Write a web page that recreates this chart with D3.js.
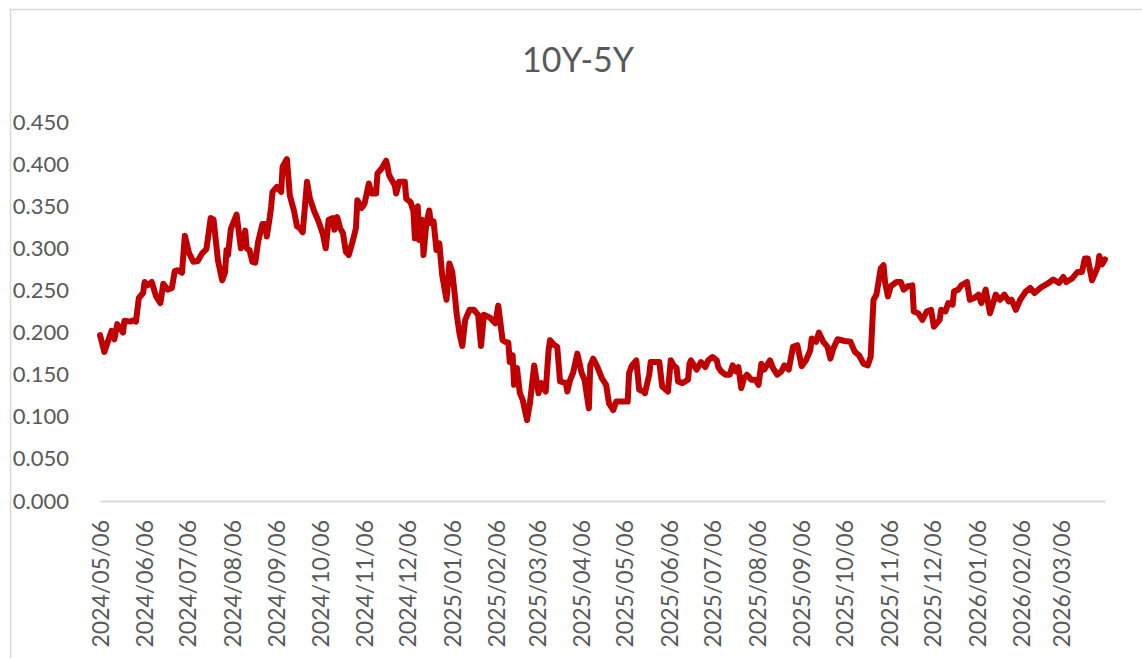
<!DOCTYPE html>
<html>
<head>
<meta charset="utf-8">
<script src="https://cdn.jsdelivr.net/npm/d3@7"></script>
<style>
  body { margin: 0; background: #fff; }
  svg { display: block; font-family: Lato, "Open Sans", sans-serif; }
</style>
</head>
<body>
<svg id="chart" width="1142" height="658"></svg>
<script>
const title = "10Y-5Y";

const dates = [
  "2024-05-06","2024-05-09","2024-05-14","2024-05-16","2024-05-18","2024-05-22","2024-05-23","2024-05-27","2024-05-30","2024-05-31",
  "2024-06-02","2024-06-05","2024-06-06","2024-06-08","2024-06-11","2024-06-14","2024-06-17","2024-06-19","2024-06-22","2024-06-25",
  "2024-06-27","2024-06-29","2024-07-02","2024-07-04","2024-07-07","2024-07-10","2024-07-13","2024-07-16","2024-07-19","2024-07-22",
  "2024-07-24","2024-07-27","2024-07-30","2024-08-01","2024-08-02","2024-08-03","2024-08-05","2024-08-09","2024-08-12","2024-08-15",
  "2024-08-16","2024-08-18","2024-08-20","2024-08-22","2024-08-24","2024-08-27","2024-08-29","2024-08-30","2024-09-01","2024-09-02",
  "2024-09-03","2024-09-06","2024-09-08","2024-09-09","2024-09-10","2024-09-13","2024-09-14","2024-09-15","2024-09-18","2024-09-20",
  "2024-09-22","2024-09-24","2024-09-27","2024-09-29","2024-10-02","2024-10-05","2024-10-08","2024-10-10","2024-10-12","2024-10-15",
  "2024-10-16","2024-10-18","2024-10-20","2024-10-22","2024-10-24","2024-10-26","2024-10-29","2024-10-31","2024-11-01","2024-11-04",
  "2024-11-06","2024-11-09","2024-11-11","2024-11-14","2024-11-15","2024-11-18","2024-11-21","2024-11-22","2024-11-23","2024-11-27",
  "2024-11-28","2024-11-30","2024-12-04","2024-12-05","2024-12-08","2024-12-10","2024-12-11","2024-12-12","2024-12-13","2024-12-14",
  "2024-12-16","2024-12-17","2024-12-19","2024-12-21","2024-12-22","2024-12-24","2024-12-26","2024-12-28","2024-12-30","2025-01-02",
  "2025-01-04","2025-01-06","2025-01-08","2025-01-09","2025-01-11","2025-01-13","2025-01-15","2025-01-18","2025-01-21","2025-01-24",
  "2025-01-26","2025-01-28","2025-02-01","2025-02-05","2025-02-07","2025-02-10","2025-02-12","2025-02-14","2025-02-15","2025-02-17",
  "2025-02-18","2025-02-20","2025-02-22","2025-02-24","2025-02-27","2025-03-01","2025-03-04","2025-03-07","2025-03-09","2025-03-12",
  "2025-03-14","2025-03-15","2025-03-18","2025-03-20","2025-03-22","2025-03-26","2025-03-27","2025-03-29","2025-03-31","2025-04-03",
  "2025-04-06","2025-04-08","2025-04-11","2025-04-12","2025-04-14","2025-04-17","2025-04-20","2025-04-23","2025-04-25","2025-04-28",
  "2025-04-30","2025-05-04","2025-05-08","2025-05-09","2025-05-11","2025-05-14","2025-05-16","2025-05-19","2025-05-20","2025-05-23",
  "2025-05-24","2025-05-30","2025-06-01","2025-06-05","2025-06-07","2025-06-09","2025-06-11","2025-06-12","2025-06-15","2025-06-19",
  "2025-06-20","2025-06-21","2025-06-25","2025-06-28","2025-07-01","2025-07-03","2025-07-06","2025-07-09","2025-07-10","2025-07-12",
  "2025-07-15","2025-07-18","2025-07-20","2025-07-22","2025-07-24","2025-07-26","2025-07-28","2025-07-30","2025-08-02","2025-08-05",
  "2025-08-07","2025-08-09","2025-08-11","2025-08-15","2025-08-17","2025-08-20","2025-08-23","2025-08-25","2025-08-28","2025-08-31",
  "2025-09-03","2025-09-06","2025-09-09","2025-09-12","2025-09-13","2025-09-16","2025-09-18","2025-09-21","2025-09-24","2025-09-26",
  "2025-09-28","2025-10-01","2025-10-06","2025-10-10","2025-10-13","2025-10-16","2025-10-19","2025-10-22","2025-10-24","2025-10-26",
  "2025-10-28","2025-10-31","2025-11-02","2025-11-03","2025-11-05","2025-11-07","2025-11-11","2025-11-14","2025-11-16","2025-11-19",
  "2025-11-22","2025-11-23","2025-11-26","2025-11-29","2025-12-02","2025-12-05","2025-12-07","2025-12-11","2025-12-12","2025-12-15",
  "2025-12-17","2025-12-20","2025-12-21","2025-12-24","2025-12-26","2025-12-30","2026-01-01","2026-01-04","2026-01-07","2026-01-09",
  "2026-01-12","2026-01-15","2026-01-19","2026-01-22","2026-01-25","2026-01-28","2026-01-30","2026-02-02","2026-02-05","2026-02-09",
  "2026-02-12","2026-02-15","2026-02-19","2026-02-24","2026-02-28","2026-03-04","2026-03-07","2026-03-09","2026-03-13","2026-03-17",
  "2026-03-20","2026-03-22","2026-03-24","2026-03-27","2026-03-31","2026-04-01","2026-04-03","2026-04-05"
];

const values = [
  0.197,0.177,0.202,0.192,0.210,0.200,0.214,0.213,0.215,0.213,
  0.241,0.247,0.260,0.256,0.260,0.243,0.235,0.258,0.251,0.253,
  0.273,0.274,0.271,0.315,0.294,0.284,0.285,0.294,0.299,0.336,
  0.334,0.286,0.262,0.272,0.298,0.292,0.323,0.340,0.300,0.321,
  0.300,0.298,0.284,0.283,0.308,0.329,0.329,0.314,0.336,0.349,
  0.367,0.373,0.369,0.367,0.397,0.406,0.385,0.363,0.344,0.326,
  0.324,0.319,0.379,0.359,0.344,0.332,0.317,0.300,0.334,0.336,
  0.322,0.337,0.324,0.318,0.296,0.292,0.310,0.324,0.357,0.348,
  0.353,0.377,0.365,0.365,0.389,0.395,0.404,0.397,0.387,0.375,
  0.365,0.379,0.379,0.359,0.355,0.344,0.312,0.340,0.350,0.310,
  0.334,0.292,0.330,0.345,0.330,0.332,0.298,0.306,0.268,0.239,
  0.282,0.272,0.241,0.223,0.199,0.184,0.215,0.227,0.227,0.221,
  0.184,0.221,0.218,0.211,0.232,0.191,0.189,0.188,0.165,0.173,
  0.138,0.158,0.128,0.120,0.096,0.116,0.161,0.128,0.140,0.130,
  0.179,0.191,0.185,0.183,0.142,0.140,0.130,0.144,0.152,0.175,
  0.152,0.144,0.110,0.161,0.169,0.159,0.146,0.138,0.116,0.108,
  0.118,0.118,0.118,0.152,0.161,0.167,0.132,0.130,0.128,0.150,
  0.165,0.165,0.136,0.130,0.167,0.161,0.158,0.142,0.140,0.144,
  0.163,0.167,0.156,0.165,0.159,0.167,0.171,0.167,0.159,0.154,
  0.150,0.150,0.161,0.154,0.159,0.134,0.146,0.150,0.144,0.144,
  0.138,0.163,0.156,0.167,0.158,0.150,0.154,0.161,0.156,0.183,
  0.185,0.160,0.167,0.179,0.193,0.189,0.200,0.189,0.183,0.169,
  0.181,0.192,0.190,0.189,0.177,0.173,0.163,0.161,0.171,0.239,
  0.245,0.276,0.280,0.260,0.243,0.255,0.260,0.260,0.251,0.255,
  0.256,0.225,0.223,0.215,0.225,0.227,0.207,0.215,0.227,0.225,
  0.235,0.233,0.249,0.251,0.256,0.260,0.239,0.241,0.245,0.235,
  0.251,0.223,0.245,0.239,0.245,0.237,0.239,0.227,0.239,0.249,
  0.253,0.247,0.253,0.258,0.263,0.259,0.266,0.260,0.264,0.272,
  0.272,0.288,0.288,0.262,0.278,0.291,0.281,0.287
];

const tickLabels = [
  "2024/05/06","2024/06/06","2024/07/06","2024/08/06","2024/09/06","2024/10/06",
  "2024/11/06","2024/12/06","2025/01/06","2025/02/06","2025/03/06","2025/04/06",
  "2025/05/06","2025/06/06","2025/07/06","2025/08/06","2025/09/06","2025/10/06",
  "2025/11/06","2025/12/06","2026/01/06","2026/02/06","2026/03/06"
];

const yTicks = [0, 0.05, 0.10, 0.15, 0.20, 0.25, 0.30, 0.35, 0.40, 0.45];

const parseDate = d3.timeParse("%Y-%m-%d");
const parseTick = d3.timeParse("%Y/%m/%d");
const data = dates.map((d, i) => ({ date: parseDate(d), value: values[i] }));
const tickDates = tickLabels.map(parseTick);

const svg = d3.select("#chart");
const grey = "#595959";

// chart area border
svg.append("rect")
  .attr("x", 10.5)
  .attr("y", 9.5)
  .attr("width", 1160)
  .attr("height", 680)
  .attr("fill", "#fff")
  .attr("stroke", "#d9d9d9")
  .attr("stroke-width", 1.5);

const x = d3.scaleTime()
  .domain([data[0].date, data[data.length - 1].date])
  .range([100, 1105]);

const y = d3.scaleLinear()
  .domain([0, 0.45])
  .range([501, 122]);

svg.append("text")
  .attr("x", 578)
  .attr("y", 72)
  .attr("text-anchor", "middle")
  .attr("fill", grey)
  .attr("font-size", 34)
  .text(title);

// y axis labels only, no line
const yAxis = svg.append("g")
  .attr("transform", "translate(69,0)")
  .call(d3.axisLeft(y).tickValues(yTicks).tickFormat(d3.format(".3f")).tickSize(0).tickPadding(0));
yAxis.select(".domain").remove();
yAxis.selectAll("text")
  .attr("fill", grey)
  .attr("font-size", 22)
  .attr("font-family", "Lato, sans-serif");

// x axis
const xAxis = svg.append("g")
  .attr("transform", "translate(0,501)")
  .call(d3.axisBottom(x).tickValues(tickDates).tickFormat((d, i) => tickLabels[i]).tickSize(0));
xAxis.select(".domain")
  .attr("stroke", "#d9d9d9")
  .attr("stroke-width", 2);
xAxis.selectAll("text")
  .attr("fill", grey)
  .attr("font-size", 23)
  .attr("font-family", "Lato, sans-serif")
  .attr("text-anchor", "end")
  .attr("transform", "rotate(-90)")
  .attr("x", -19)
  .attr("y", 0)
  .attr("dy", "0.35em");

const line = d3.line()
  .x(d => x(d.date))
  .y(d => y(d.value));

svg.append("path")
  .datum(data)
  .attr("fill", "none")
  .attr("stroke", "#c00000")
  .attr("stroke-width", 6)
  .attr("stroke-linejoin", "round")
  .attr("stroke-linecap", "round")
  .attr("d", line);
</script>
</body>
</html>
